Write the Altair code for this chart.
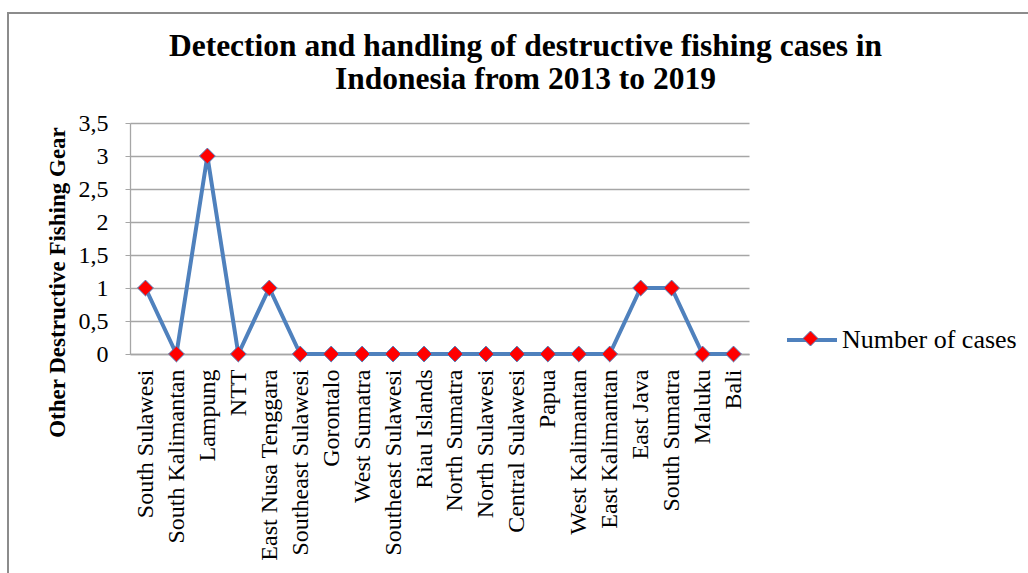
import json
import altair as alt
import pandas as pd

# Regions in the order they appear along the x axis
regions = [
    "South Sulawesi", "South Kalimantan", "Lampung", "NTT", "East Nusa Tenggara",
    "Southeast Sulawesi", "Gorontalo", "West Sumatra", "Southeast Sulawesi",
    "Riau Islands", "North Sumatra", "North Sulawesi", "Central Sulawesi", "Papua",
    "West Kalimantan", "East Kalimantan", "East Java", "South Sumatra", "Maluku", "Bali",
]
cases = [1, 0, 3, 0, 1, 0, 0, 0, 0, 0, 0, 0, 0, 0, 0, 0, 1, 1, 0, 0]
y_ticks = [0, 0.5, 1, 1.5, 2, 2.5, 3, 3.5]
series_name = "Number of cases"

df = pd.DataFrame({
    "idx": list(range(len(regions))),
    "cases": cases,
    "series": series_name,
    "marker": series_name,
})

SERIF = "Liberation Serif"
BLUE = "#4F81BD"
RED = "#FF0000"
GRID = "#A6A6A6"

label_expr = json.dumps(regions) + "[datum.value]"

x_enc = alt.X(
    "idx:O",
    title=None,
    axis=alt.Axis(
        labelExpr=label_expr,
        labelAngle=270,
        labelAlign="right",
        labelBaseline="middle",
        labelPadding=15,
        labelFont=SERIF,
        labelFontSize=24,
        labelColor="#000000",
        labelLimit=0,
        labelOverlap=False,
        ticks=False,
        domainColor=GRID,
        domainWidth=1.3,
        grid=False,
    ),
)
y_enc = alt.Y(
    "cases:Q",
    scale=alt.Scale(domain=[0, 3.5], nice=False),
    axis=alt.Axis(
        values=y_ticks,
        labelExpr="replace(format(datum.value, ''), '.', ',')",
        labelFont=SERIF,
        labelFontSize=24,
        labelColor="#000000",
        labelPadding=17,
        labelOverlap=False,
        labelFlush=False,
        tickSize=5,
        tickColor=GRID,
        domainColor=GRID,
        domainWidth=1.3,
        gridColor=GRID,
        gridWidth=1.3,
        title="Other Destructive Fishing Gear",
        titleFont=SERIF,
        titleFontSize=23,
        titleFontWeight="bold",
        titleColor="#000000",
        titleAngle=270,
        titleAlign="center",
        titleBaseline="middle",
        titleLimit=0,
        titleX=-73,
        titleY=159,
    ),
)

legend_common = dict(
    title=None,
    orient="none",
    legendX=655,
    legendY=190,
    padding=0,
    symbolSize=2500,
    labelFont=SERIF,
    labelFontSize=26,
    labelOffset=3,
    labelLimit=0,
)

line = alt.Chart(df).mark_line(strokeWidth=4, strokeJoin="miter").encode(
    x=x_enc,
    y=y_enc,
    color=alt.Color(
        "series:N",
        scale=alt.Scale(range=[BLUE]),
        legend=alt.Legend(
            symbolType="M-1,0L1,0",
            symbolStrokeWidth=4,
            labelColor="#000000",
            zindex=1,
            **legend_common,
        ),
    ),
)

# Diamond markers; their legend only contributes the diamond on top of the line symbol
points = alt.Chart(df).mark_point(
    shape="diamond", filled=True, size=250, opacity=1,
    stroke=BLUE, strokeWidth=1,
).encode(
    x=x_enc,
    y=y_enc,
    fill=alt.Fill(
        "marker:N",
        scale=alt.Scale(range=[RED]),
        legend=alt.Legend(
            symbolType="M0,-0.3L0.3,0L0,0.3L-0.3,0Z",
            symbolStrokeColor=BLUE,
            symbolStrokeWidth=1,
            labelExpr="''",
            zindex=2,
            **legend_common,
        ),
    ),
)

# Outer frame of the figure (top and left edges)
frame_top = alt.Chart(df).mark_rule(color="#8C8C8C", strokeWidth=2).encode(
    x=alt.value(-123), x2=alt.value(898), y=alt.value(-110)
)
frame_left = alt.Chart(df).mark_rule(color="#8C8C8C", strokeWidth=2).encode(
    x=alt.value(-122), y=alt.value(-110), y2=alt.value(450)
)

chart = alt.layer(frame_top, frame_left, line, points).properties(
    width=619,
    height=231,
    autosize=alt.AutoSizeParams(type="none"),
    padding={"left": 130, "top": 123, "right": 279, "bottom": 219},
    title=alt.TitleParams(
        text=["Detection and handling of destructive fishing cases in",
              "Indonesia from 2013 to 2019"],
        font=SERIF,
        fontSize=31.5,
        fontWeight="bold",
        color="#000000",
        lineHeight=33,
        anchor="middle",
        frame="group",
        dx=86,
        offset=-83,
    ),
    background="#FFFFFF",
).configure_view(stroke=None)

chart.save("out.html", embed_options={"renderer": "svg", "actions": False})
